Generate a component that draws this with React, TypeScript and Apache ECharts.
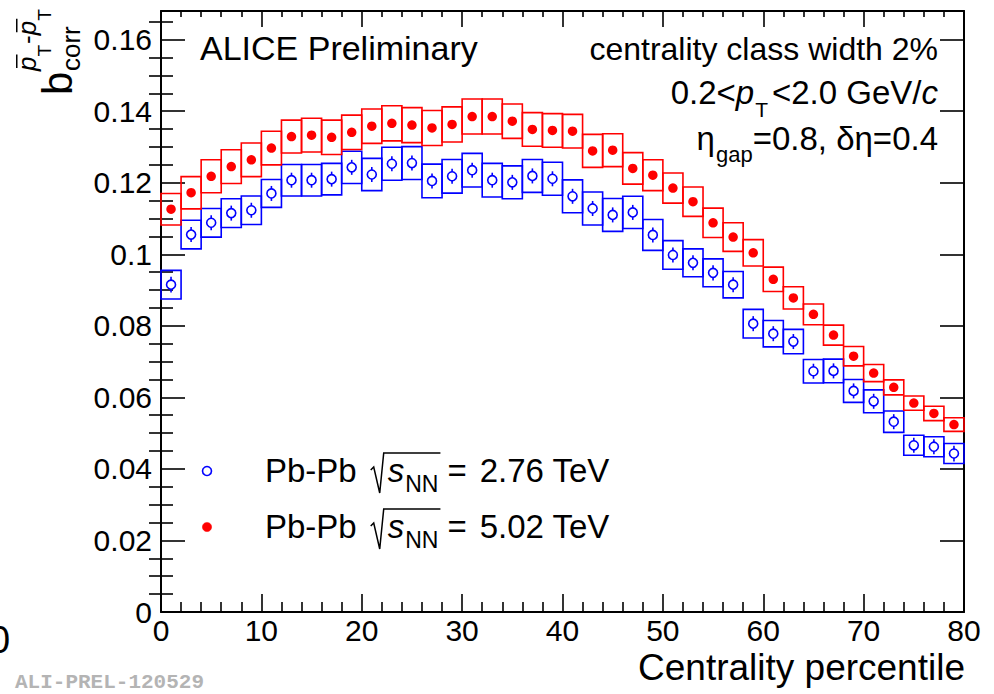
import React, { useEffect, useRef } from 'react';
import * as echarts from 'echarts';

// Centrality bin centres (2% wide classes)
const centrality = [
  1, 3, 5, 7, 9, 11, 13, 15, 17, 19, 21, 23, 25, 27, 29, 31, 33, 35, 37, 39,
  41, 43, 45, 47, 49, 51, 53, 55, 57, 59, 61, 63, 65, 67, 69, 71, 73, 75, 77, 79,
];

// Pb-Pb 2.76 TeV
const bcorr276 = [
  0.0915, 0.1055, 0.1088, 0.1115, 0.1123, 0.117, 0.1207, 0.1207, 0.121, 0.1243,
  0.1223, 0.1253, 0.1255, 0.1205, 0.1218, 0.1235, 0.1207, 0.1201, 0.1219, 0.1211,
  0.1162, 0.1128, 0.111, 0.1117, 0.1054, 0.0998, 0.0976, 0.0948, 0.0915, 0.0806,
  0.0778, 0.0756, 0.0673, 0.0674, 0.0618, 0.0589, 0.0532, 0.0466, 0.0462, 0.0443,
];
const sys276 = [
  0.004, 0.004, 0.004, 0.004, 0.004, 0.0039, 0.0044, 0.0044, 0.0044, 0.0045,
  0.0045, 0.0046, 0.0046, 0.0047, 0.0047, 0.0047, 0.0047, 0.0046, 0.0046, 0.0046,
  0.0046, 0.0046, 0.0046, 0.0045, 0.0043, 0.004, 0.0039, 0.0039, 0.0037, 0.004,
  0.0037, 0.0034, 0.0033, 0.0033, 0.0032, 0.0032, 0.003, 0.0028, 0.0028, 0.0028,
];
const stat276 = [
  0.0022, 0.0021, 0.0021, 0.0021, 0.0021, 0.0021, 0.0021, 0.0021, 0.0021, 0.0021,
  0.0021, 0.0021, 0.0021, 0.0021, 0.0021, 0.0021, 0.0021, 0.0021, 0.0021, 0.0021,
  0.0021, 0.0021, 0.0021, 0.0021, 0.0021, 0.0021, 0.0021, 0.0021, 0.0021, 0.0021,
  0.0021, 0.0021, 0.0021, 0.0021, 0.0021, 0.0021, 0.0021, 0.0021, 0.0021, 0.0022,
];

// Pb-Pb 5.02 TeV
const bcorr502 = [
  0.1126, 0.1172, 0.1218, 0.1245, 0.1264, 0.1297, 0.1329, 0.1333, 0.1327, 0.1341,
  0.1358, 0.1366, 0.1361, 0.1353, 0.1363, 0.1385, 0.1385, 0.1372, 0.1349, 0.1346,
  0.1344, 0.1289, 0.1291, 0.124, 0.1221, 0.1185, 0.1147, 0.1088, 0.1048, 0.1004,
  0.093, 0.0878, 0.0832, 0.0774, 0.0715, 0.0668, 0.0628, 0.0584, 0.0555, 0.0524,
];
const sys502 = [
  0.0044, 0.0045, 0.0046, 0.0047, 0.0047, 0.0047, 0.0046, 0.0047, 0.0048, 0.0048,
  0.0048, 0.0049, 0.0049, 0.0049, 0.0049, 0.0049, 0.0049, 0.0048, 0.0047, 0.0047,
  0.0047, 0.0046, 0.0046, 0.0044, 0.0043, 0.0042, 0.0041, 0.0041, 0.004, 0.0037,
  0.0034, 0.0031, 0.0029, 0.0028, 0.0027, 0.0024, 0.0021, 0.002, 0.002, 0.0019,
];

const yMajorTicks = [0, 0.02, 0.04, 0.06, 0.08, 0.1, 0.12, 0.14, 0.16];
const yMinorTicks = [
  0.005, 0.01, 0.015, 0.025, 0.03, 0.035, 0.045, 0.05, 0.055, 0.065, 0.07, 0.075,
  0.085, 0.09, 0.095, 0.105, 0.11, 0.115, 0.125, 0.13, 0.135, 0.145, 0.15, 0.155, 0.165,
];

const X_MIN = 0;
const X_MAX = 80;
const Y_MIN = 0;
const Y_MAX = 0.168;

const BLUE = '#0000ff';
const RED = '#ff0000';
const BLACK = '#000000';
const FONT = '"Liberation Sans", Arial, Helvetica, sans-serif';

type Piece = { t: string; fs: number; it?: boolean; dy?: number; bar?: boolean; pre?: number };

const fontOf = (p: Piece) => `${p.it ? 'italic ' : ''}${p.fs}px ${FONT}`;
let measureCtx: CanvasRenderingContext2D | null = null;
function widthOf(p: Piece): number {
  if (!measureCtx) measureCtx = document.createElement('canvas').getContext('2d');
  measureCtx!.font = fontOf(p);
  return measureCtx!.measureText(p.t).width;
}
function runWidth(pieces: Piece[]) {
  return pieces.reduce((s, p) => s + (p.pre || 0) + widthOf(p), 0);
}
// Lay out a run of text pieces on a common baseline (sub/superscripts via dy)
function run(pieces: Piece[], x0: number, base: number, color: string) {
  const els: any[] = [];
  let x = x0;
  for (const p of pieces) {
    x += p.pre || 0;
    const w = widthOf(p);
    const b = base + (p.dy || 0);
    els.push({
      type: 'text',
      x,
      y: b - 0.3465 * p.fs,
      silent: true,
      style: {
        text: p.t,
        font: fontOf(p),
        fill: color,
        textAlign: 'left',
        textVerticalAlign: 'middle',
        verticalAlign: 'middle',
      },
    });
    if (p.bar) {
      const yb = b - 0.74 * p.fs;
      els.push({
        type: 'line',
        silent: true,
        shape: { x1: x + (p.it ? 3 : 1), y1: yb, x2: x + w + (p.it ? 2 : 0), y2: yb },
        style: { stroke: color, lineWidth: 1.5 },
      });
    }
    x += w;
  }
  return { els, end: x };
}

function legendLine(x0: number, base: number, energy: string) {
  const els: any[] = [];
  const a = run([{ t: 'Pb-Pb', fs: 33 }], x0, base, BLACK);
  els.push(...a.els);
  const r0 = a.end + 14;
  const b = run([{ t: 's', fs: 33, it: true }, { t: 'NN', fs: 23, dy: 10, pre: 1 }], r0 + 17, base, BLACK);
  els.push(...b.els);
  const ov = b.end + 2;
  els.push({
    type: 'polyline',
    silent: true,
    shape: {
      points: [
        [r0, base - 12],
        [r0 + 3, base - 15],
        [r0 + 9, base + 11],
        [r0 + 13, base - 29],
        [ov, base - 29],
      ],
    },
    style: { stroke: BLACK, fill: 'none', lineWidth: 1.5 },
  });
  const c = run([{ t: '=', fs: 33, pre: 7 }, { t: energy, fs: 33, pre: 13 }], ov, base, BLACK);
  els.push(...c.els);
  return els;
}

function buildGraphic() {
  const els: any[] = [];

  // Y-axis title: b_corr with pT-bar superscript, rotated
  const yTitle: any[] = [];
  yTitle.push(...run([{ t: 'b', fs: 42 }], 0, 0, BLACK).els);
  yTitle.push(...run([{ t: 'corr', fs: 26 }], 24, 8, BLACK).els);
  yTitle.push(
    ...run(
      [
        { t: 'p', fs: 26, it: true, bar: true },
        { t: 'T', fs: 19, dy: 15 },
        { t: '-', fs: 26, pre: 1 },
        { t: 'p', fs: 26, it: true, bar: true },
        { t: 'T', fs: 19, dy: 15 },
      ],
      24,
      -36,
      BLACK
    ).els
  );
  els.push({ type: 'group', x: 72, y: 95, rotation: Math.PI / 2, silent: true, children: yTitle });

  // ALICE label
  els.push(...run([{ t: 'ALICE Preliminary', fs: 34 }], 200, 60, BLACK).els);

  // Top-right info block, right-aligned
  const RIGHT = 938;
  const l1: Piece[] = [{ t: 'centrality class width 2%', fs: 32 }];
  const l2: Piece[] = [
    { t: '0.2<', fs: 33 },
    { t: 'p', fs: 33, it: true },
    { t: 'T', fs: 21, dy: 13, pre: 1 },
    { t: '<2.0 GeV/', fs: 33, pre: 4 },
    { t: 'c', fs: 33, it: true },
  ];
  const l3: Piece[] = [
    { t: 'η', fs: 33 },
    { t: 'gap', fs: 22, dy: 12, pre: 1 },
    { t: '=0.8, δη=0.4', fs: 33 },
  ];
  els.push(...run(l1, RIGHT - runWidth(l1), 60, BLACK).els);
  els.push(...run(l2, RIGHT - runWidth(l2), 104, BLACK).els);
  els.push(...run(l3, RIGHT - runWidth(l3), 150, BLACK).els);

  // Legend
  els.push({
    type: 'circle',
    silent: true,
    shape: { cx: 207, cy: 471, r: 4.5 },
    style: { fill: 'none', stroke: BLUE, lineWidth: 1.6 },
  });
  els.push({
    type: 'circle',
    silent: true,
    shape: { cx: 207, cy: 527, r: 4.6 },
    style: { fill: RED, stroke: RED, lineWidth: 0.5 },
  });
  els.push(...legendLine(265, 482, '2.76 TeV'));
  els.push(...legendLine(265, 538, '5.02 TeV'));

  // X-axis title, right-aligned to the frame
  const xt: Piece[] = [{ t: 'Centrality percentile', fs: 37 }];
  els.push(...run(xt, 965 - runWidth(xt), 680, BLACK).els);

  // Preliminary figure tag
  els.push({
    type: 'text',
    x: 15,
    y: 682,
    silent: true,
    style: {
      text: 'ALI-PREL-120529',
      font: `bold 21px "Liberation Mono", "DejaVu Sans Mono", monospace`,
      fill: '#b4b4b4',
      textAlign: 'left',
      textVerticalAlign: 'middle',
      verticalAlign: 'middle',
    },
  });

  // Edge of a neighbouring label
  els.push(...run([{ t: '0', fs: 38 }], -11, 653, BLACK).els);

  return els;
}

const tickLine = { color: BLACK, width: 1.6 };
const axisLine = { show: true, onZero: false, lineStyle: { color: BLACK, width: 2 } };

function boxSeries(name: string, values: number[], sys: number[], color: string) {
  return {
    name,
    type: 'custom',
    coordinateSystem: 'cartesian2d',
    xAxisIndex: 0,
    yAxisIndex: 0,
    silent: true,
    encode: { x: 0, y: 1 },
    data: centrality.map((c, i) => [c, values[i], sys[i]]),
    renderItem: (_params: any, api: any) => {
      const x = api.value(0);
      const y = api.value(1);
      const e = api.value(2);
      const p1 = api.coord([x - 1, y + e]);
      const p2 = api.coord([x + 1, y - e]);
      return {
        type: 'rect',
        shape: { x: p1[0], y: p1[1], width: p2[0] - p1[0], height: p2[1] - p1[1] },
        style: { fill: 'none', stroke: color, lineWidth: 1.6 },
      };
    },
  };
}

function buildOption() {
  return {
    animation: false,
    backgroundColor: '#ffffff',
    grid: { left: 161, right: 30, top: 11, bottom: 82, containLabel: false, outerBoundsMode: 'none' },
    xAxis: [
      {
        type: 'value',
        position: 'bottom',
        min: X_MIN,
        max: X_MAX,
        interval: 10,
        axisLine,
        axisTick: { show: true, inside: true, length: 18, lineStyle: tickLine },
        minorTick: { show: true, splitNumber: 5, length: 10, lineStyle: tickLine },
        axisLabel: { show: true, fontSize: 30, color: BLACK, fontFamily: FONT, margin: 3 },
        splitLine: { show: false },
        minorSplitLine: { show: false },
      },
      {
        type: 'value',
        position: 'top',
        min: X_MIN,
        max: X_MAX,
        interval: 10,
        axisLine,
        axisTick: { show: true, inside: true, length: 16, lineStyle: tickLine },
        minorTick: { show: true, splitNumber: 5, length: 6, lineStyle: tickLine },
        axisLabel: { show: false },
        splitLine: { show: false },
      },
    ],
    yAxis: [
      {
        type: 'value',
        position: 'left',
        min: Y_MIN,
        max: Y_MAX,
        axisLine,
        axisTick: { show: true, inside: true, length: 24, lineStyle: tickLine, customValues: yMajorTicks },
        axisLabel: {
          show: true,
          fontSize: 30,
          color: BLACK,
          fontFamily: FONT,
          margin: 9,
          customValues: yMajorTicks,
        },
        splitLine: { show: false },
      },
      {
        type: 'value',
        position: 'left',
        min: Y_MIN,
        max: Y_MAX,
        axisLine: { show: false },
        axisTick: { show: true, inside: true, length: 12, lineStyle: tickLine, customValues: yMinorTicks },
        axisLabel: { show: false },
        splitLine: { show: false },
      },
      {
        type: 'value',
        position: 'right',
        min: Y_MIN,
        max: Y_MAX,
        axisLine,
        axisTick: { show: true, inside: true, length: 24, lineStyle: tickLine, customValues: yMajorTicks },
        axisLabel: { show: false },
        splitLine: { show: false },
      },
      {
        type: 'value',
        position: 'right',
        min: Y_MIN,
        max: Y_MAX,
        axisLine: { show: false },
        axisTick: { show: true, inside: true, length: 12, lineStyle: tickLine, customValues: yMinorTicks },
        axisLabel: { show: false },
        splitLine: { show: false },
      },
    ],
    series: [
      boxSeries('sys 2.76', bcorr276, sys276, BLUE),
      boxSeries('sys 5.02', bcorr502, sys502, RED),
      {
        name: 'Pb-Pb 2.76 TeV',
        type: 'custom',
        coordinateSystem: 'cartesian2d',
        xAxisIndex: 0,
        yAxisIndex: 0,
        silent: true,
        encode: { x: 0, y: 1 },
        data: centrality.map((c, i) => [c, bcorr276[i], stat276[i]]),
        renderItem: (_params: any, api: any) => {
          const x = api.value(0);
          const y = api.value(1);
          const s = api.value(2);
          const c = api.coord([x, y]);
          const top = api.coord([x, y + s]);
          const bot = api.coord([x, y - s]);
          const r = 4.5;
          const lineStyle = { stroke: BLUE, lineWidth: 1.6 };
          const children: any[] = [
            { type: 'circle', shape: { cx: c[0], cy: c[1], r }, style: { fill: 'none', stroke: BLUE, lineWidth: 1.6 } },
          ];
          if (c[1] - r > top[1]) {
            children.push({ type: 'line', shape: { x1: c[0], y1: top[1], x2: c[0], y2: c[1] - r }, style: lineStyle });
            children.push({ type: 'line', shape: { x1: c[0], y1: c[1] + r, x2: c[0], y2: bot[1] }, style: lineStyle });
          }
          return { type: 'group', children };
        },
      },
      {
        name: 'Pb-Pb 5.02 TeV',
        type: 'scatter',
        xAxisIndex: 0,
        yAxisIndex: 0,
        silent: true,
        symbol: 'circle',
        symbolSize: 9.5,
        itemStyle: { color: RED, opacity: 1 },
        data: centrality.map((c, i) => [c, bcorr502[i]]),
      },
    ],
    graphic: { elements: buildGraphic() },
  };
}

export default function App() {
  const ref = useRef<HTMLDivElement>(null);
  useEffect(() => {
    if (!ref.current) return;
    const chart = echarts.init(ref.current, null, { renderer: 'svg' });
    chart.setOption(buildOption() as any);
    return () => chart.dispose();
  }, []);
  return (
    <div
      ref={ref}
      style={{ position: 'absolute', left: 0, top: 0, width: 994, height: 694, background: '#ffffff' }}
    />
  );
}
